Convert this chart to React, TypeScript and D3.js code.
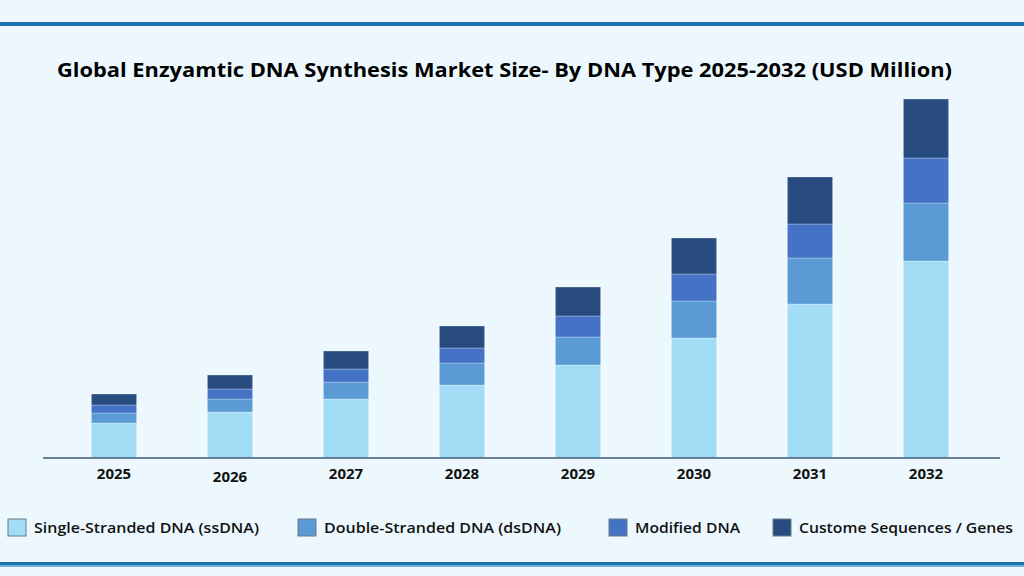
import * as React from 'react';
import * as d3 from 'd3';

const years = ['2025', '2026', '2027', '2028', '2029', '2030', '2031', '2032'];
const seriesNames = [
  'Single-Stranded DNA (ssDNA)',
  'Double-Stranded DNA (dsDNA)',
  'Modified DNA',
  'Custome Sequences / Genes',
];
const ssDNA = [35, 46, 59, 73, 93, 120, 154, 197];
const dsDNA = [10, 13, 17, 22, 28, 37, 46, 58];
const modifiedDNA = [8, 10, 13, 15, 21, 27, 34, 45];
const customGenes = [11, 14, 18, 22, 29, 36, 47, 59];
const colors = ['#a3dcf5', '#5b9bd5', '#4472c4', '#284c80'];

const W = 1024;
const H = 576;
const baseY = 458;
const font = '"Open Sans", "Noto Sans", sans-serif';

export default function App() {
  const rows = years.map((year, i) => ({
    year,
    ss: ssDNA[i],
    ds: dsDNA[i],
    mod: modifiedDNA[i],
    cust: customGenes[i],
  }));
  const keys = ['ss', 'ds', 'mod', 'cust'];
  const stacked = d3.stack<any>().keys(keys)(rows);

  const x = d3.scaleBand<string>().domain(years).range([56, 984]).paddingInner(0.61).paddingOuter(0.305);
  const y = d3.scaleLinear().domain([0, 359]).range([baseY, 99]);

  // legend layout (position + text width as in the original)
  const legendX = [8, 298, 609, 773];
  const legendW = [225, 237, 105, 214];

  return (
    <svg width={W} height={H} viewBox={`0 0 ${W} ${H}`} style={{ display: 'block', position: 'absolute', left: 0, top: 0 }}>
      <rect x={0} y={0} width={W} height={H} fill="#ecf8fe" />
      <rect x={0} y={22} width={W} height={4} fill="#1b72ad" />
      <rect x={0} y={562} width={W} height={3} fill="#1b72ad" />
      <rect x={0} y={565} width={W} height={2} fill="#6fb4de" />

      <text x={57} y={77} textLength={895} lengthAdjust="spacingAndGlyphs" fontFamily={font} fontWeight={700} fontSize={20} fill="#000">
        Global Enzyamtic DNA Synthesis Market Size- By DNA Type 2025-2032 (USD Million)
      </text>

      {stacked.map((s, si) => (
        <g key={s.key}>
          {s.map((d, i) => (
            <rect
              key={years[i]}
              x={x(years[i])}
              y={y(d[1])}
              width={x.bandwidth()}
              height={y(d[0]) - y(d[1])}
              fill={colors[si]}
              stroke="#ffffff"
              strokeOpacity={0.35}
              strokeWidth={0.8}
            />
          ))}
        </g>
      ))}

      <line x1={43} x2={1000} y1={baseY} y2={baseY} stroke="#3e5a7a" strokeWidth={1.5} />

      {years.map((yr) => (
        <text
          key={yr}
          x={(x(yr) ?? 0) + x.bandwidth() / 2}
          y={yr === '2026' ? 482 : 479}
          textAnchor="middle"
          fontFamily={font}
          fontWeight={700}
          fontSize={15}
          fill="#111"
        >
          {yr}
        </text>
      ))}

      {seriesNames.map((name, i) => (
        <g key={name}>
          <rect x={legendX[i]} y={519} width={18} height={17} fill={colors[i]} stroke="#6b7b8c" strokeWidth={1} />
          <text
            x={legendX[i] + 26}
            y={533}
            textLength={legendW[i]}
            lengthAdjust="spacingAndGlyphs"
            fontFamily={font}
            fontWeight={600}
            fontSize={15}
            fill="#111"
          >
            {name}
          </text>
        </g>
      ))}
    </svg>
  );
}
